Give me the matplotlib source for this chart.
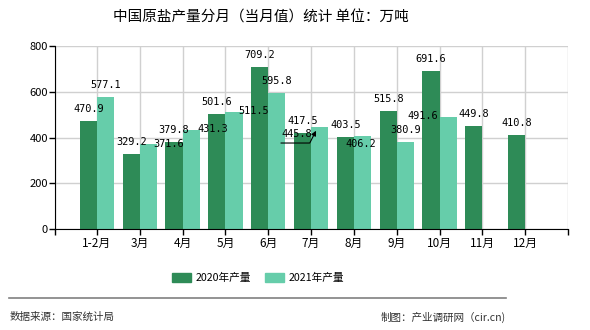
import matplotlib
matplotlib.use("Agg")
import matplotlib.pyplot as plt
import numpy as np
from matplotlib.lines import Line2D
from matplotlib.patches import Patch

plt.rcParams['font.family'] = ['Noto Sans CJK SC', 'DejaVu Sans']

categories = ["1-2月", "3月", "4月", "5月", "6月", "7月", "8月", "9月", "10月", "11月", "12月"]
values_2020 = [470.9, 329.2, 379.8, 501.6, 709.2, 417.5, 403.5, 515.8, 691.6, 449.8, 410.8]
values_2021 = [577.1, 371.6, 431.3, 511.5, 595.8, 445.8, 406.2, 380.9, 491.6, np.nan, np.nan]
series_names = ["2020年产量", "2021年产量"]
yticks = [0, 200, 400, 600, 800]

title = "中国原盐产量分月（当月值）统计 单位：万吨"
source = "数据来源：国家统计局"
credit = "制图：产业调研网（cir.cn)"

c2020 = "#2e8b57"
c2021 = "#66cdaa"

fig = plt.figure(figsize=(5.9, 3.3), dpi=100)
ax = fig.add_axes([55/590, 1-229/330, (568-55)/590, (229-46)/330])

x = np.arange(len(categories))
w = 0.4
ax.bar(x - w/2, values_2020, width=w, color=c2020, zorder=3)
ax.bar(x + w/2, values_2021, width=w, color=c2021, zorder=3)

ax.set_xlim(-0.98, 11.0)
ax.set_ylim(0, 800)
ax.set_yticks(yticks)
ax.set_xticks([-0.98] + list(x) + [11.0])
ax.set_xticklabels([""] + categories + [""])
ax.grid(True, color="#d0d0d0", linewidth=1, zorder=0)
ax.set_axisbelow(True)
for s in ["top", "right"]:
    ax.spines[s].set_visible(False)
ax.spines["left"].set_zorder(4)
ax.spines["bottom"].set_zorder(4)
ax.tick_params(axis="x", length=4, width=1, pad=2, labelsize=8.5, colors="black")
ax.tick_params(axis="y", length=4, width=1, pad=1, labelsize=8, colors="black")

label_kw = dict(family="DejaVu Sans Mono", fontsize=7.4, color="black")
default_off = (0, 12)
overrides = {
    (1, 1): (20, 0),
    (1, 2): (22, 1),
    (1, 3): (20, 1),
    (1, 6): (-2, -8),
    (1, 8): (-25, 1),
}
for si, (vals, dx) in enumerate([(values_2020, -w/2), (values_2021, w/2)]):
    for i, v in enumerate(vals):
        if np.isnan(v):
            continue
        if si == 1 and i == 5:
            # callout label with underline + arrow
            ax.annotate(f"{v:.1f}", xy=(i + 0.16, v), xytext=(-21, -7),
                        textcoords="offset pixels", ha="center", va="center",
                        zorder=6, **label_kw)
            ax.annotate("", xy=(i + 0.16, v), xytext=(-37, -16),
                        textcoords="offset pixels", zorder=6,
                        arrowprops=dict(arrowstyle="-|>", color="black", lw=0.8,
                                        mutation_scale=7, shrinkA=0, shrinkB=3,
                                        patchA=None,
                                        connectionstyle="angle,angleA=0,angleB=63,rad=0"))
            continue
        off = overrides.get((si, i), default_off)
        ax.annotate(f"{v:.1f}", xy=(i + dx, v), xytext=off, textcoords="offset pixels",
                    ha="center", va="center", zorder=6, **label_kw)

fig.text(261/590, 1-18/330, title, ha="center", va="center", fontsize=10.5, color="black")

handles = [Patch(color=c2020), Patch(color=c2021)]
fig.legend(handles, series_names, loc="center", bbox_to_anchor=(258/590, 1-278/330),
           ncol=2, frameon=False, fontsize=7.7, handlelength=1.8, handleheight=0.9,
           handletextpad=0.4, columnspacing=1.3)

fig.add_artist(Line2D([9/590, 506/590], [1-298/330, 1-298/330], color="#808080", lw=1.2,
                      transform=fig.transFigure))
fig.text(10/590, 1-317/330, source, ha="left", va="center", fontsize=7.6, color="#333333")
fig.text(506/590, 1-317/330, credit, ha="right", va="center", fontsize=7.6, color="#333333")

fig.savefig("out.png", dpi=100)
